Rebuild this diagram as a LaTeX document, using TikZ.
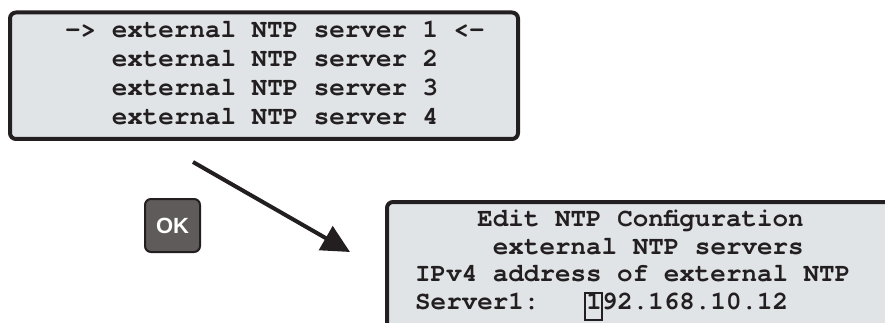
\documentclass[tikz,border=0pt]{standalone}
\usepackage{fontspec}
\setmonofont{TeX Gyre Cursor}
\setsansfont{Liberation Sans}
\usetikzlibrary{arrows.meta}
\usepackage{xcolor}
\definecolor{lcdbg}{HTML}{E1E4E7}
\definecolor{lcdframe}{HTML}{231F20}
\definecolor{keybg}{HTML}{5F5B5A}
\tikzset{
  lcd/.style={draw=lcdframe, line width=4pt, fill=lcdbg, rounded corners=6pt, inner sep=0pt},
  lcdtext/.style={anchor=base west, inner sep=0pt, text=lcdframe, font=\ttfamily\bfseries\fontsize{25.9}{26}\selectfont},
  okkey/.style={draw=lcdframe, line width=2pt, fill=keybg, rounded corners=6pt, minimum width=55pt, minimum height=53pt, text=white, font=\sffamily\bfseries\fontsize{22}{22}\selectfont},
}
\begin{document}
\begin{tikzpicture}[x=1pt,y=-1pt]
\clip (0,0) rectangle (885,323);
% menu display
\node[lcd, minimum width=508pt, minimum height=126.5pt] (menu) at (264,75.75) {};
\node[lcdtext] (srv1) at (65,37.5) {-> external NTP server 1 <-};
\foreach \n/\y in {2/66.5,3/95.5,4/124.5}
 \node[lcdtext] (srv\n) at (65+3*15.55,\y) {external NTP server \n};
% edit display
\node[lcd, anchor=north west, minimum width=540pt, minimum height=170pt] (edit) at (385,200) {};
\node[lcdtext] (title) at (415+4*15.55,226.5) {Edit NTP Configuration};
\node[lcdtext] (sub) at (415+5*15.55,254) {external NTP servers};
\node[lcdtext] (ipv4) at (415,281.7) {IPv4 address of external NTP};
\node[lcdtext] (srvlbl) at (415,309.5) {Server1:};
\node[lcdtext] (addr) at (415+11*15.55,309.5) {192.168.10.12};
\draw[lcdframe, line width=1.5pt] (585,293) rectangle (602,320);
% key and arrow
\node[okkey] (ok) at (172.5,225.5) {OK};
\coordinate (from) at (193,162);
\coordinate (to) at (350,252);
\draw[lcdframe, line width=4pt, -{Triangle[length=28pt,width=27pt]}] (from) -- (to);
\end{tikzpicture}
\end{document}
